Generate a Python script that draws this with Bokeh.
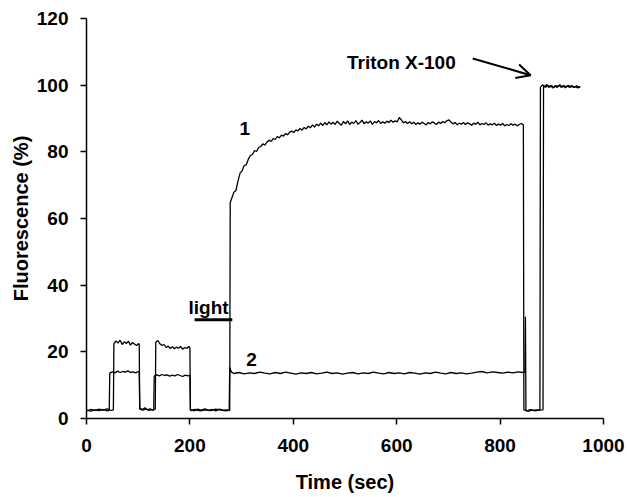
from bokeh.plotting import figure
from bokeh.models import Arrow, OpenHead, Label, FixedTicker
from bokeh.embed import file_html
from bokeh.resources import INLINE

# ---- data ----
x_ticks = [0, 200, 400, 600, 800, 1000]
y_ticks = [0, 20, 40, 60, 80, 100, 120]

curve1 = [(0,2.3),(8,2.7),(16,2.4),(24,2.8),(32,2.5),(40,2.9),(48,2.4),(52,2.6),(53,22.4),(57,23.3),(61,22.6),(65,23.5),(69,22.2),(73,23.0),(77,22.5),(81,23.2),(85,22.0),(89,22.8),(93,22.3),(97,21.9),(101,22.5),(102,22.1),(103,3.1),(108,2.7),(113,3.2),(118,2.6),(123,2.9),(128,2.5),(133,2.8),(134,22.9),(138,23.4),(142,22.4),(146,21.9),(150,22.2),(154,21.3),(158,21.7),(162,21.0),(166,21.5),(170,20.9),(174,21.4),(178,21.1),(182,21.6),(186,20.8),(190,21.3),(194,21.0),(198,21.6),(200,21.2),(201,2.7),(208,2.3),(215,2.8),(222,2.5),(229,2.9),(236,2.4),(243,2.7),(250,2.3),(257,2.8),(264,2.5),(271,2.6),(277,2.4),(278,64.8),(282,66.5),(285,67.9),(289,68.4),(293,71.2),(297,73.6),(301,74.3),(305,75.9),(309,76.1),(313,77.8),(317,78.9),(321,79.2),(325,80.4),(329,80.1),(333,81.3),(337,81.6),(341,82.4),(345,82.0),(349,82.9),(353,83.5),(357,83.1),(361,84.0),(365,83.7),(369,84.6),(373,84.2),(377,85.0),(381,84.7),(385,85.5),(389,85.1),(393,85.9),(397,86.2),(401,85.8),(405,86.6),(409,86.3),(413,87.0),(417,86.5),(421,87.3),(425,86.9),(429,87.7),(433,87.2),(437,88.1),(441,87.4),(445,88.3),(449,87.8),(453,88.6),(457,87.9),(461,88.8),(465,88.1),(469,89.0),(473,88.3),(477,88.9),(481,88.2),(485,89.2),(489,88.5),(493,88.0),(497,89.1),(501,88.4),(505,89.3),(509,88.2),(513,88.9),(517,88.5),(521,89.4),(525,88.3),(529,88.8),(533,89.5),(537,88.4),(541,89.0),(545,88.6),(549,89.3),(553,88.2),(557,89.1),(561,88.7),(565,89.4),(569,88.5),(573,89.0),(577,88.6),(581,89.2),(585,88.8),(589,89.5),(593,88.9),(597,89.3),(601,89.0),(605,90.3),(609,89.6),(613,88.7),(617,89.1),(621,88.5),(625,89.0),(629,88.4),(633,88.9),(637,88.2),(641,88.7),(645,88.3),(649,88.9),(653,88.5),(657,88.1),(661,88.8),(665,88.4),(669,89.0),(673,88.6),(677,88.2),(681,88.9),(685,88.5),(689,89.1),(693,88.7),(697,89.3),(701,89.6),(705,88.9),(709,88.4),(713,88.8),(717,88.1),(721,88.6),(725,88.3),(729,88.8),(733,88.2),(737,88.7),(741,88.4),(745,88.0),(749,88.6),(753,88.3),(757,88.9),(761,88.1),(765,88.5),(769,88.2),(773,88.7),(777,88.0),(781,88.4),(785,88.1),(789,88.6),(793,87.9),(797,88.3),(801,88.0),(805,88.5),(809,87.8),(813,88.2),(817,87.9),(821,88.4),(825,88.0),(829,88.3),(833,87.8),(837,88.2),(841,88.5),(845,88.1),(846,2.6),(852,2.3),(858,2.7),(864,2.4),(870,2.6),(877,2.5),(878,99.4),(882,100.1),(886,99.5),(890,100.2),(894,99.3),(898,99.9),(902,99.1),(906,99.8),(910,99.3),(914,100.0),(918,99.4),(922,99.9),(926,99.2),(930,99.7),(934,99.4),(938,99.9),(942,99.3),(946,99.6),(950,99.2),(955,99.5)]

curve2 = [(0,2.5),(8,2.2),(16,2.6),(24,2.4),(32,2.7),(40,2.3),(44,2.5),(45,13.6),(50,14.0),(55,13.7),(60,14.2),(65,13.8),(70,14.1),(75,13.9),(80,14.3),(85,13.8),(90,14.0),(95,13.7),(100,14.1),(102,13.8),(103,2.8),(109,2.5),(115,2.9),(121,2.4),(127,2.7),(130,2.5),(131,12.7),(136,13.1),(141,12.8),(146,13.2),(151,12.9),(156,13.1),(161,12.7),(166,13.0),(171,12.8),(176,13.2),(181,12.9),(186,12.6),(191,13.0),(196,12.8),(200,13.0),(201,2.4),(210,2.7),(220,2.3),(230,2.6),(240,2.4),(250,2.8),(260,2.5),(270,2.3),(276,2.5),(277,15.3),(280,14.0),(285,13.5),(295,13.8),(305,13.4),(315,13.7),(325,13.5),(335,13.9),(345,13.6),(355,13.4),(365,13.8),(375,13.5),(385,13.9),(395,13.6),(405,13.3),(415,13.7),(425,13.5),(435,13.8),(445,13.4),(455,13.6),(465,13.9),(475,13.5),(485,13.7),(495,13.3),(505,13.6),(515,13.8),(525,13.4),(535,13.7),(545,13.5),(555,13.9),(565,13.6),(575,13.4),(585,13.8),(595,13.5),(605,13.7),(615,13.4),(625,13.8),(635,13.6),(645,13.3),(655,13.7),(665,13.5),(675,13.9),(685,13.6),(695,13.4),(705,13.8),(715,13.5),(725,13.7),(735,13.4),(745,13.6),(755,13.9),(765,14.1),(775,13.7),(785,14.0),(795,13.8),(805,13.6),(815,13.9),(825,13.7),(835,14.0),(845,13.8),(848,13.9),(849,30.5),(850,2.4),(856,2.2),(862,2.6),(868,2.3),(874,2.5),(883,2.6),(884,99.8),(888,99.4),(892,100.0),(896,99.5),(900,99.8),(904,99.3),(908,99.9),(912,99.6),(916,100.1),(920,99.4),(924,99.8),(928,99.5),(932,100.0),(936,99.4),(940,99.7),(944,99.3),(948,99.8),(952,99.4),(955,99.6)]

light_bar_t = [209, 282]
light_bar_f = [29.6, 29.6]

labels = [("1", 306, 87.1), ("2", 319, 17.8), ("light", 236, 33.2), ("Triton X-100", 609, 106.7)]
arrow_from = (747, 108.0)
arrow_to = (859, 103.0)

FONT = "Liberation Sans"

p = figure(width=625, height=495, x_range=(0, 1000), y_range=(0, 120),
           output_backend="svg", toolbar_location=None,
           min_border_left=86, min_border_right=22, min_border_top=18, min_border_bottom=72)
p.outline_line_color = None
p.xgrid.visible = False
p.ygrid.visible = False
p.background_fill_color = "white"

t1, f1 = zip(*curve1)
t2, f2 = zip(*curve2)
p.line(list(t2), list(f2), line_color="black", line_width=1.3)
p.line(list(t1), list(f1), line_color="black", line_width=1.3)
p.line(light_bar_t, light_bar_f, line_color="black", line_width=3)

for txt, tx, ty in labels:
    p.add_layout(Label(x=tx, y=ty, text=txt, text_align="center", text_baseline="alphabetic",
                       text_font=FONT, text_font_style="bold", text_font_size="19px",
                       text_color="black"))

p.add_layout(Arrow(end=OpenHead(size=14, line_width=2, line_color="black"),
                   x_start=arrow_from[0], y_start=arrow_from[1],
                   x_end=arrow_to[0], y_end=arrow_to[1],
                   line_width=2, line_color="black"))

for ax in (p.xaxis[0], p.yaxis[0]):
    ax.axis_line_width = 1.5
    ax.axis_line_color = "black"
    ax.major_tick_line_width = 1.5
    ax.major_tick_line_color = "black"
    ax.major_tick_out = 6
    ax.major_tick_in = 0
    ax.minor_tick_line_color = None
    ax.major_label_text_font = FONT
    ax.major_label_text_font_style = "bold"
    ax.major_label_text_font_size = "19px"
    ax.major_label_text_color = "black"
    ax.axis_label_text_font = FONT
    ax.axis_label_text_font_style = "bold"
    ax.axis_label_text_font_size = "20px"
    ax.axis_label_text_color = "black"

p.xaxis.ticker = FixedTicker(ticks=x_ticks)
p.yaxis.ticker = FixedTicker(ticks=y_ticks)
p.xaxis.axis_label = "Time (sec)"
p.yaxis.axis_label = "Fluorescence (%)"
p.xaxis.major_label_standoff = 14
p.yaxis.major_label_standoff = 12
p.xaxis.axis_label_standoff = 16
p.yaxis.axis_label_standoff = 2

open("out.html", "w").write(file_html(p, INLINE))
